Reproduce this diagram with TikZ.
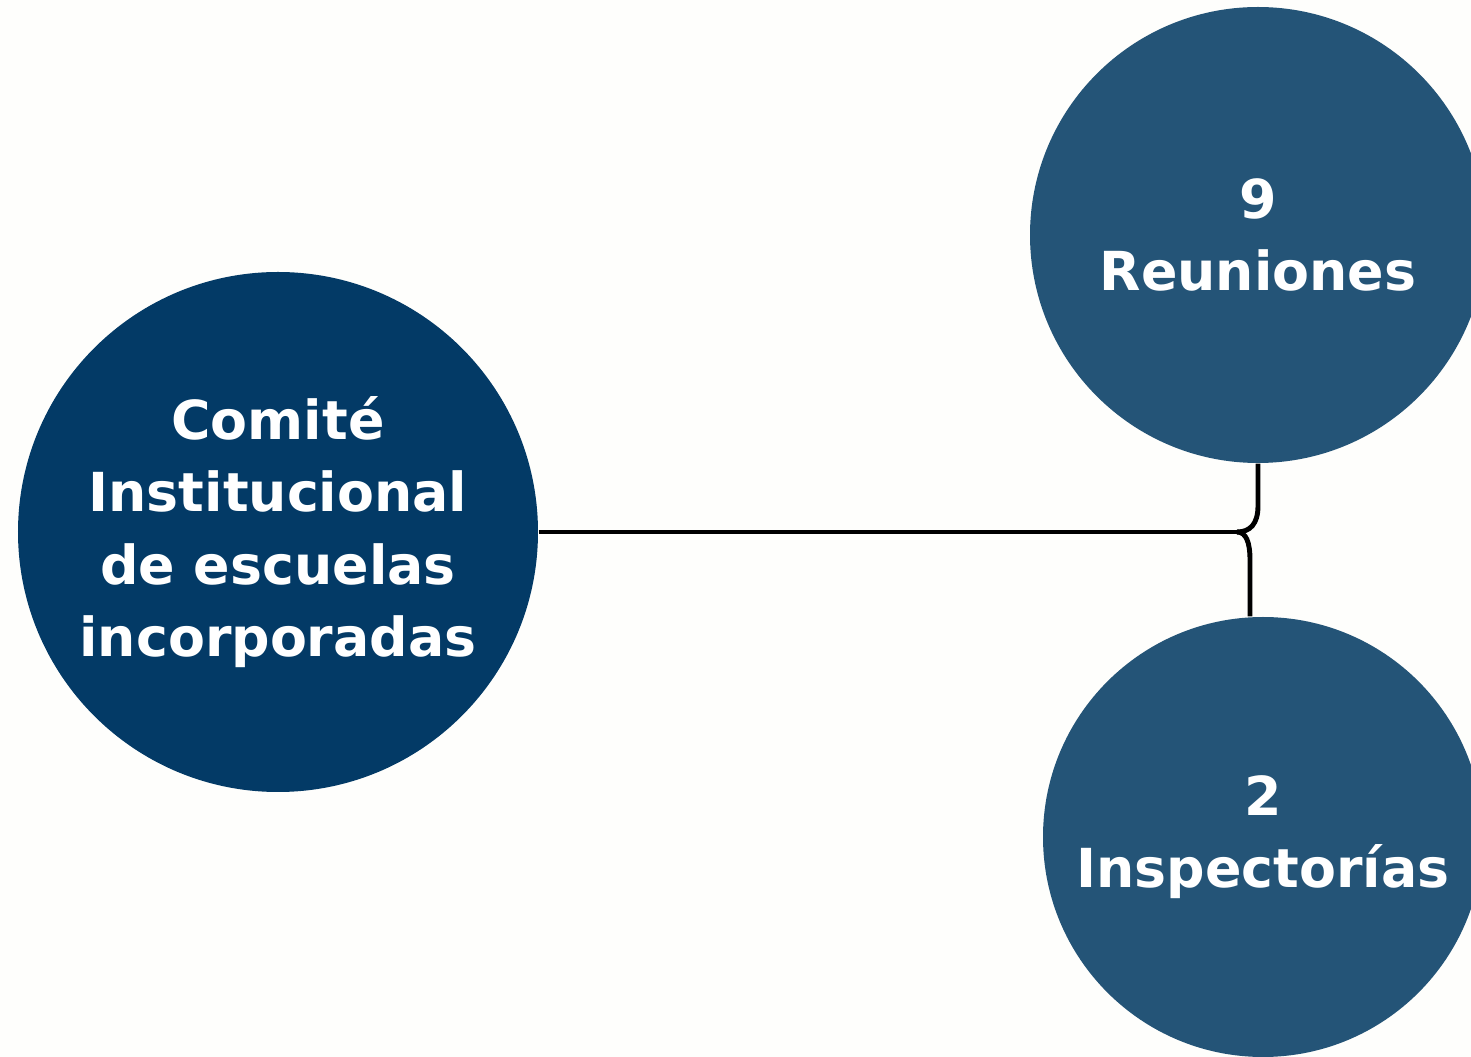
\documentclass[tikz,border=0pt]{standalone}
\usepackage{fontspec}
\setsansfont{DejaVu Sans}
\usepackage{tikz}
\usetikzlibrary{positioning}
\definecolor{deepnavy}{HTML}{033A66}
\definecolor{slateblue}{HTML}{245477}
\definecolor{paper}{HTML}{FEFEFC}

\tikzset{
  bubble/.style={circle, inner sep=0pt, text=white, align=center,
    font=\sffamily\bfseries\fontsize{15.3}{20.6}\selectfont},
  link/.style={line width=1.4pt, black}
}

\begin{document}
\begin{tikzpicture}
% Page frame
\useasboundingbox (0,0) rectangle (14.71,-10.57);
\fill[paper] (0,0) rectangle (14.71,-10.57);
\clip (0,0) rectangle (14.71,-10.57);

% Circles
\node[bubble, fill=deepnavy, minimum size=5.2cm] (comite) at (2.78,-5.32)
  {Comité\\Institucional\\de escuelas\\incorporadas};
\node[bubble, fill=slateblue, minimum size=4.56cm] (reuniones) at (12.58,-2.35)
  {9\\Reuniones};
\node[bubble, fill=slateblue, minimum size=4.4cm] (inspect) at (12.63,-8.37)
  {2\\Inspectorías};

% Connector
\coordinate (fork) at (12.37,-5.32);
\coordinate (upbend) at (12.58,-5.06);
\coordinate (lowbend) at (12.50,-5.60);
\draw[link] (comite.east) -- (fork);
\draw[link] (reuniones.south) -- (upbend)
  .. controls (12.58,-5.24) and (12.50,-5.32) .. (fork);
\draw[link] (fork) .. controls (12.46,-5.32) and (12.50,-5.42) .. (lowbend)
  -- (lowbend |- inspect.north);
\end{tikzpicture}
\end{document}
